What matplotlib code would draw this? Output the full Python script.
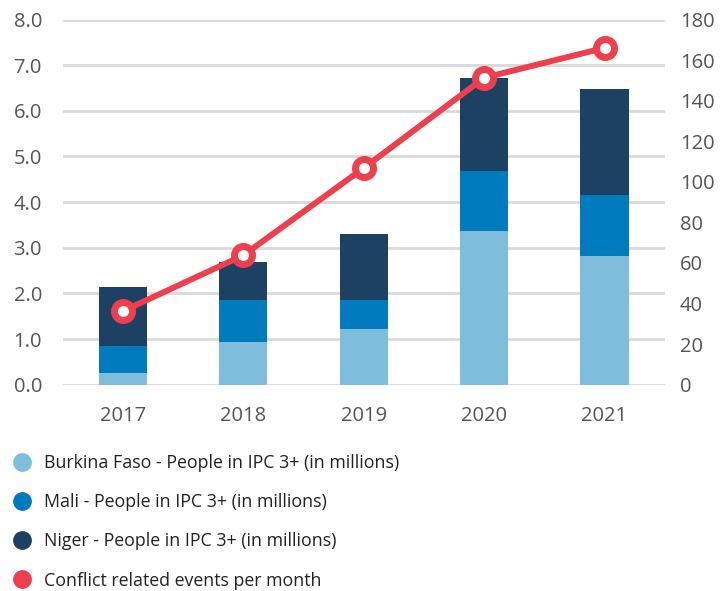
import matplotlib
matplotlib.use("Agg")
import matplotlib.pyplot as plt
from matplotlib.lines import Line2D
import numpy as np

plt.rcParams.update({
    "font.family": ["Open Sans", "DejaVu Sans"],
    "font.size": 13,
})

# ---------------- Data ----------------
years = ["2017", "2018", "2019", "2020", "2021"]
burkina = [0.26, 0.94, 1.23, 3.37, 2.83]
mali = [0.58, 0.92, 0.63, 1.31, 1.32]
niger = [1.31, 0.82, 1.44, 2.03, 2.32]
conflict_events = [36.3, 63.8, 106.8, 151.3, 166.0]

c_burkina = "#7fbddc"
c_mali = "#007bbd"
c_niger = "#1c4163"
c_red = "#ef3e4e"
c_tick = "#555555"
c_grid = "#d9d9d9"

# ---------------- Figure ----------------
fig = plt.figure(figsize=(7.21, 5.91), dpi=100)
ax = fig.add_axes([0.087, 0.349, 0.835, 0.618])
ax2 = ax.twinx()

x = np.arange(len(years))
w = 0.4
b1 = np.array(burkina)
b2 = b1 + np.array(mali)
ax.bar(x, burkina, w, color=c_burkina, zorder=2)
ax.bar(x, mali, w, bottom=b1, color=c_mali, zorder=2)
ax.bar(x, niger, w, bottom=b2, color=c_niger, zorder=2)

ax2.plot(x, conflict_events, "-o", color=c_red, lw=4.3, ms=13,
         mfc="white", mec=c_red, mew=5, zorder=5)

ax.set_xlim(-0.5, len(years) - 0.5)
ax.set_ylim(0, 8)
ax.set_yticks(np.arange(0, 8.1, 1.0))
ax.set_yticklabels([f"{v:.1f}" for v in np.arange(0, 8.1, 1.0)])
ax2.set_ylim(0, 180)
ax2.set_yticks(np.arange(0, 181, 20))

ax.set_xticks(x)
ax.set_xticklabels(years)

ax.set_axisbelow(True)
ax.grid(axis="y", color=c_grid, lw=2)
for a in (ax, ax2):
    for s in a.spines.values():
        s.set_visible(False)
ax.tick_params(axis="both", length=0, colors=c_tick, labelsize=14.5)
ax.tick_params(axis="y", pad=15)
ax.tick_params(axis="x", pad=15)
ax2.tick_params(axis="y", length=0, colors=c_tick, labelsize=14.5, pad=11)

# ---------------- Legend ----------------
labels = [
    "Burkina Faso - People in IPC 3+ (in millions)",
    "Mali - People in IPC 3+ (in millions)",
    "Niger - People in IPC 3+ (in millions)",
    "Conflict related events per month",
]
colors = [c_burkina, c_mali, c_niger, c_red]
handles = [Line2D([], [], ls="", marker="o", ms=12.5, color=c) for c in colors]
fig.legend(handles, labels, loc="upper left", bbox_to_anchor=(0.0, 0.2437),
           frameon=False, fontsize=12.8, labelcolor="#222222",
           handletextpad=0.4, labelspacing=1.19, handlelength=1.67,
           borderaxespad=0)

fig.savefig("out.png", dpi=100)
